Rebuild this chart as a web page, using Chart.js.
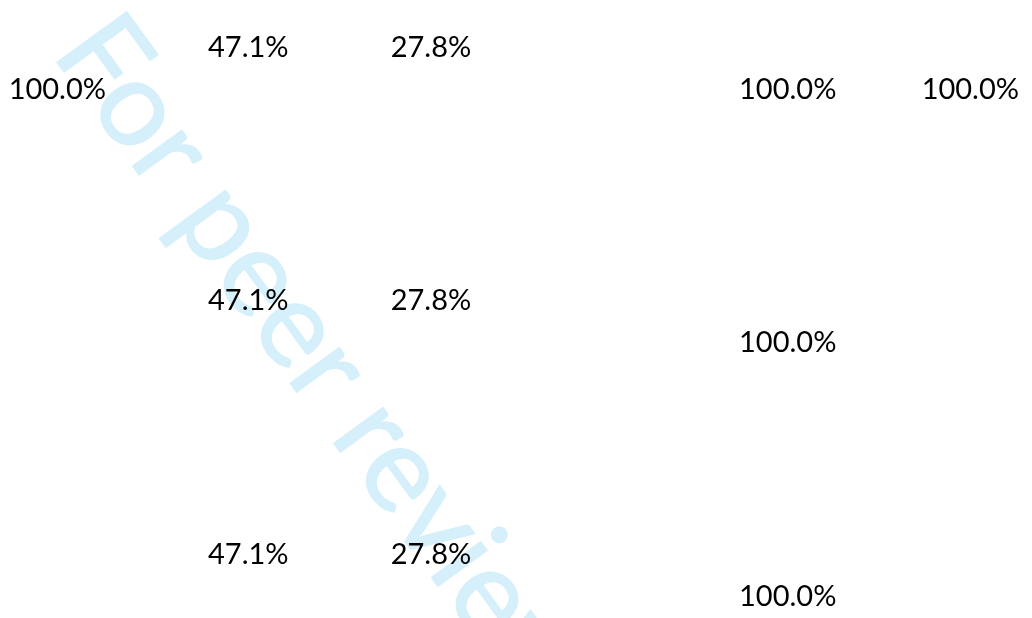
<!DOCTYPE html>
<html>
<head>
<meta charset="utf-8">
<script src="https://cdn.jsdelivr.net/npm/chart.js@4"></script>
<style>
  html, body { margin: 0; padding: 0; background: #fff; }
  #wrap { position: relative; width: 1032px; height: 618px; }
</style>
</head>
<body>
<div id="wrap"><canvas id="chart"></canvas></div>
<script>
// Data (columns left to right, one list per row of labels)
const columns = ['Col 1', 'Col 2', 'Col 3', 'Col 4', 'Col 5', 'Col 6'];
const rowNames = ['Row 1', 'Row 2', 'Row 3'];
const row1Values = [100.0, 47.1, 27.8, null, 100.0, 100.0];
const row2Values = [null, 47.1, 27.8, null, 100.0, null];
const row3Values = [null, 47.1, 27.8, null, 100.0, null];
const rowValues = [row1Values, row2Values, row3Values];

// Style
const labelFont = '29px Lato';
const labelColor = '#000000';
const fullDrop = 0.166; // 100% labels sit a little lower in each row
const watermarkText = 'For peer review';
const watermarkColor = '#d5effb';

// Build one dataset per row
const datasets = rowValues.map((values, r) => ({
    label: rowNames[r],
    data: values
        .map((v, c) => v === null ? null : { x: c, y: r + (v === 100 ? fullDrop : 0), v: v })
        .filter(p => p !== null),
    pointRadius: 0,
    showLine: false
}));

// Watermark behind everything
const watermarkPlugin = {
    id: 'watermark',
    beforeDraw(chart) {
        const ctx = chart.ctx;
        ctx.save();
        ctx.font = '120px Lato';
        ctx.fillStyle = watermarkColor;
        ctx.strokeStyle = watermarkColor;
        ctx.lineWidth = 1.5;
        ctx.lineJoin = 'round';
        ctx.textBaseline = 'alphabetic';
        const angle = 54 * Math.PI / 180;
        const target = ctx.measureText('For peer rev').width + ctx.measureText('i').width / 2;
        const sx = 653 / target;
        const lsb = -ctx.measureText('F').actualBoundingBoxLeft;
        const ox = 56.7 - lsb * sx * Math.cos(angle);
        const oy = 61.7 - lsb * sx * Math.sin(angle);
        ctx.translate(ox, oy);
        ctx.rotate(angle);
        ctx.scale(sx, 1);
        ctx.fillText(watermarkText, 0, 0);
        ctx.strokeText(watermarkText, 0, 0);
        ctx.restore();
    }
};

// Percentage labels
const valueLabelPlugin = {
    id: 'valueLabels',
    afterDatasetsDraw(chart) {
        const ctx = chart.ctx;
        ctx.save();
        ctx.font = labelFont;
        ctx.fillStyle = labelColor;
        ctx.textAlign = 'right';
        ctx.textBaseline = 'alphabetic';
        const asc = ctx.measureText('0').actualBoundingBoxAscent;
        chart.data.datasets.forEach((ds, i) => {
            const meta = chart.getDatasetMeta(i);
            meta.data.forEach((pt, j) => {
                const text = ds.data[j].v.toFixed(1) + '%';
                ctx.fillText(text, pt.x, pt.y + asc / 2);
            });
        });
        ctx.restore();
    }
};

const chart = new Chart(document.getElementById('chart'), {
    type: 'scatter',
    data: { datasets: datasets },
    options: {
        responsive: true,
        maintainAspectRatio: false,
        animation: false,
        events: [],
        layout: { padding: { left: 106, right: 13, top: 46.5, bottom: 65 } },
        plugins: {
            legend: { display: false },
            tooltip: { enabled: false }
        },
        scales: {
            x: { type: 'linear', display: false, min: 0, max: columns.length - 1 },
            y: { type: 'linear', display: false, reverse: true, min: 0, max: rowNames.length - 1 }
        }
    },
    plugins: [watermarkPlugin, valueLabelPlugin]
});
</script>
</body>
</html>
